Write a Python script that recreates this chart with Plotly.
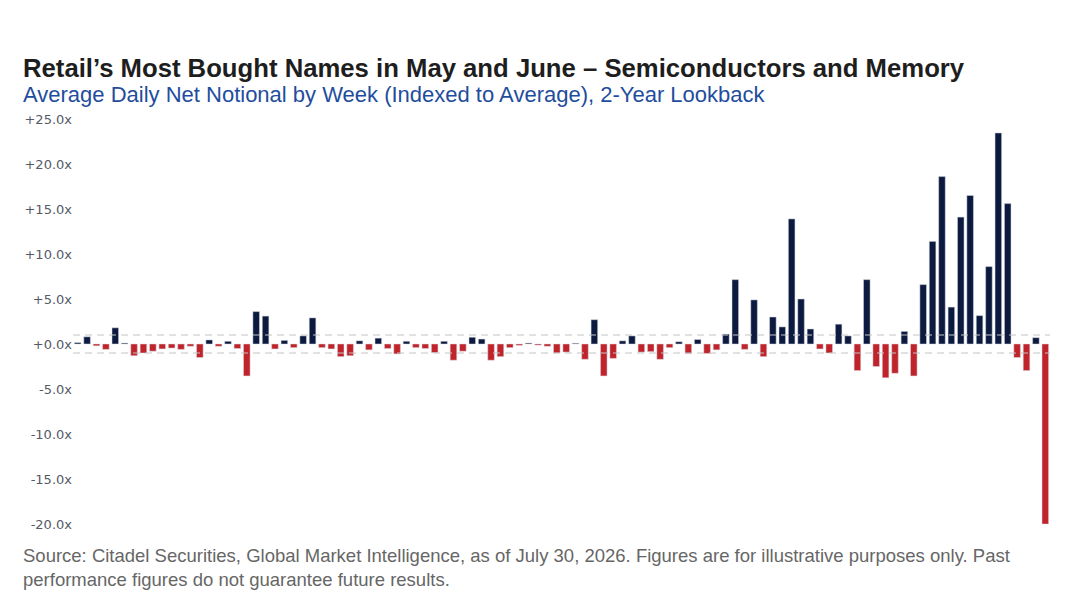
import plotly.graph_objects as go

# Week index (2-year lookback, weekly)
weeks = list(range(1, 105))

# Average daily net notional, indexed to average (x)
values = [
    0.15, 0.8, -0.2, -0.6, 1.8, 0.1, -1.3, -1.0, -0.8, -0.55,
    -0.45, -0.6, -0.25, -1.5, 0.45, -0.25, 0.3, -0.5, -3.55, 3.6,
    3.1, -0.55, 0.4, -0.4, 0.9, 2.9, -0.4, -0.55, -1.4, -1.3,
    0.35, -0.65, 0.65, -0.5, -1.1, 0.3, -0.4, -0.5, -0.95, 0.3,
    -1.8, -0.8, 0.75, 0.55, -1.8, -1.4, -0.4, -0.15, 0.1, -0.12,
    -0.25, -1.0, -0.9, 0.08, -1.7, 2.7, -3.55, -1.6, 0.35, 0.9,
    -0.9, -0.85, -1.7, -0.4, 0.25, -1.05, 0.5, -1.05, -0.65, 1.1,
    7.15, -0.6, 4.9, -1.4, 3.0, 1.9, 13.9, 5.0, 1.67, -0.55,
    -1.0, 2.2, 0.9, -2.95, 7.15, -2.5, -3.75, -3.25, 1.4, -3.55,
    6.6, 11.4, 18.6, 4.1, 14.1, 16.5, 3.15, 8.6, 23.45, 15.6,
    -1.5, -2.95, 0.7, -20.0,
]

tick_vals = [25, 20, 15, 10, 5, 0, -5, -10, -15, -20]
tick_text = ["+25.0x", "+20.0x", "+15.0x", "+10.0x", "+5.0x", "+0.0x",
             "-5.0x", "-10.0x", "-15.0x", "-20.0x"]
band = [1.0, -1.0]

NAVY = "#0c1a40"
RED = "#c1232b"
colors = [NAVY if v >= 0 else RED for v in values]

W, H = 1052, 585
OFF = 8  # page body margin
L, R = 65, 10
T, B = 111, 69
PH = H - T - B
PW = W - L - R

fig = go.Figure()
fig.add_trace(go.Bar(
    x=weeks, y=values,
    marker=dict(color=colors, line=dict(color="#d4d8e0", width=0.5)),
    hoverinfo="skip",
))

for b in band:
    fig.add_shape(type="line", xref="paper", x0=0, x1=1, yref="y", y0=b, y1=b,
                  line=dict(color="#c4c4c4", width=1, dash="7px,5px"), layer="above")

def py(ref_y):
    return ((H - B) - (ref_y - OFF)) / PH

def px(ref_x):
    return ((ref_x - OFF) - L) / PW

FONT = "Liberation Sans, Arial"
fig.add_annotation(
    text="<b>Retail’s Most Bought Names in May and June – Semiconductors and Memory</b>",
    xref="paper", yref="paper", x=px(21), y=py(68), xanchor="left", yanchor="middle",
    showarrow=False, font=dict(family=FONT, size=25.7, color="#1e1e1e"))
fig.add_annotation(
    text="Average Daily Net Notional by Week (Indexed to Average), 2-Year Lookback",
    xref="paper", yref="paper", x=px(21), y=py(95), xanchor="left", yanchor="middle",
    showarrow=False, font=dict(family=FONT, size=22, color="#1f4d9e"))
fig.add_annotation(
    text="Source: Citadel Securities, Global Market Intelligence, as of July 30, 2026. Figures are for illustrative purposes only. Past<br>performance figures do not guarantee future results.",
    xref="paper", yref="paper", x=px(21), y=py(543), xanchor="left", yanchor="top",
    align="left", showarrow=False,
    font=dict(family=FONT, size=18.5, color="#666666"))

fig.update_layout(
    width=W, height=H,
    margin=dict(l=L, r=R, t=T, b=B),
    paper_bgcolor="white", plot_bgcolor="white",
    showlegend=False, bargap=0.3,
    xaxis=dict(range=[0.5, 104.5], showticklabels=False, showgrid=False,
               zeroline=False, showline=False, ticks=""),
    yaxis=dict(range=[-20, 25], tickvals=tick_vals, ticktext=tick_text,
               showgrid=False, zeroline=False, showline=False, ticks="",
               tickfont=dict(family="DejaVu Sans", size=13, color="#555a66")),
)

fig.write_html("out.html")
